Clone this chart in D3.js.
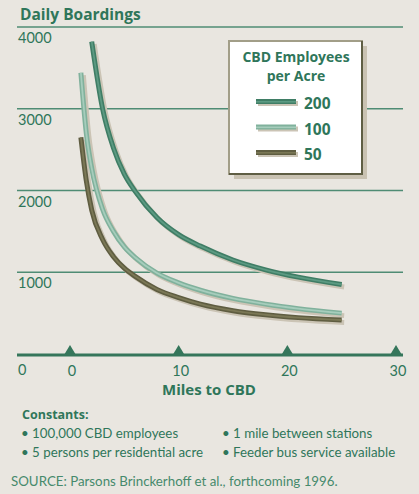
<!DOCTYPE html>
<html>
<head>
<meta charset="utf-8">
<script src="https://cdn.jsdelivr.net/npm/d3@7"></script>
<style>
  html, body { margin: 0; padding: 0; background: #e9e6e0; }
  svg { display: block; font-family: Lato, "Open Sans", sans-serif; }
  .bold { font-family: "Open Sans", Lato, sans-serif; font-weight: 700; }
</style>
</head>
<body>
<svg id="chart" width="419" height="494"></svg>
<script>
// values (daily boardings by miles to CBD)
const series = ["200", "100", "50"];
const miles200 = [2, 3, 4, 5, 6, 8, 10, 12, 15, 18, 21, 25];
const board200 = [3820, 3000, 2520, 2200, 1990, 1670, 1460, 1320, 1150, 1030, 940, 850];
const miles100 = [1, 1.5, 2, 3, 4, 5, 6, 8, 10, 12, 15, 18, 21, 25];
const board100 = [3440, 2700, 2270, 1770, 1500, 1310, 1180, 990, 870, 780, 680, 610, 555, 500];
const miles50 = [1, 1.5, 2, 3, 4, 5, 6, 8, 10, 12, 15, 18, 21, 25];
const board50 = [2650, 2120, 1760, 1400, 1190, 1050, 950, 790, 690, 610, 530, 480, 445, 416];
const yTicks = [0, 1000, 2000, 3000, 4000];
const xTicks = [0, 10, 20, 30];
const notesLeft = ["• 100,000 CBD employees", "• 5 persons per residential acre"];
const notesRight = ["• 1 mile between stations", "• Feeder bus service available"];

const green = "#2f765a";
const colors = {
  "200": { edge: "#3f7d65", core: "#5c9a82" },
  "100": { edge: "#80b19c", core: "#a6cdbc" },
  "50":  { edge: "#5f5d41", core: "#7b7856" }
};
const shadow = "#cbc4b5";

const svg = d3.select("#chart");
const x = d3.scaleLinear().domain([0, 30]).range([70, 396]);
const y = d3.scaleLinear().domain([0, 4000]).range([354, 27]);
const left = 17, right = 403;

// title
svg.append("text").attr("class", "bold").attr("x", 20).attr("y", 20)
  .attr("fill", green).attr("font-size", 15.5)
  .text("Daily Boardings");

// gridlines
svg.selectAll("line.grid").data(yTicks.filter(d => d > 0)).join("line")
  .attr("class", "grid")
  .attr("x1", left).attr("x2", right)
  .attr("y1", d => y(d)).attr("y2", d => y(d))
  .attr("stroke", "#4f8c74").attr("stroke-width", 1.5);

svg.selectAll("text.ylab").data(yTicks).join("text")
  .attr("class", "ylab")
  .attr("x", 18).attr("y", d => y(d) + (d === 0 ? 21 : 16))
  .attr("fill", green).attr("font-size", 14.5)
  .text(d => d);

// curves
const line = d3.line().x(d => x(d[0])).y(d => y(d[1])).curve(d3.curveMonotoneX);
const data = {
  "200": miles200.map((m, i) => [m, board200[i]]),
  "100": miles100.map((m, i) => [m, board100[i]]),
  "50": miles50.map((m, i) => [m, board50[i]])
};

// shadows first, then the tubes (back to front: 50, 100, 200)
const order = ["50", "100", "200"];
order.forEach(k => {
  svg.append("path").attr("d", line(data[k]))
    .attr("transform", "translate(2.5,2.5)")
    .attr("fill", "none").attr("stroke", shadow).attr("stroke-width", 5);
});
order.forEach(k => {
  svg.append("path").attr("d", line(data[k]))
    .attr("fill", "none").attr("stroke", colors[k].edge).attr("stroke-width", 5);
  svg.append("path").attr("d", line(data[k]))
    .attr("fill", "none").attr("stroke", colors[k].core).attr("stroke-width", 1.8);
});

// x axis
svg.append("line")
  .attr("x1", left).attr("x2", right).attr("y1", 355).attr("y2", 355)
  .attr("stroke", "#35765b").attr("stroke-width", 3);

svg.selectAll("path.tri").data(xTicks).join("path")
  .attr("class", "tri")
  .attr("d", d => `M${x(d) - 6},355 L${x(d)},345 L${x(d) + 6},355 Z`)
  .attr("fill", "#35765b");

svg.selectAll("text.xlab").data(xTicks).join("text")
  .attr("class", "xlab")
  .attr("x", d => x(d) + 2).attr("y", 376)
  .attr("text-anchor", "middle")
  .attr("fill", green).attr("font-size", 14.5)
  .text(d => d);

svg.append("text").attr("class", "bold").attr("x", 209).attr("y", 395)
  .attr("text-anchor", "middle")
  .attr("fill", green).attr("font-size", 15)
  .text("Miles to CBD");

// legend
const lg = svg.append("g");
lg.append("rect").attr("x", 234).attr("y", 46).attr("width", 133).attr("height", 133)
  .attr("fill", "#c9c2b2");
lg.append("rect").attr("x", 229).attr("y", 41).attr("width", 133).attr("height", 133)
  .attr("fill", "#fff").attr("stroke", "#a29e88").attr("stroke-width", 2);
lg.append("path").attr("d", "M362,41 L362,174 L229,174")
  .attr("fill", "none").attr("stroke", "#5f5e44").attr("stroke-width", 2);

lg.append("text").attr("class", "bold").attr("x", 296).attr("y", 62).attr("text-anchor", "middle")
  .attr("fill", green).attr("font-size", 14)
  .text("CBD Employees");
lg.append("text").attr("class", "bold").attr("x", 296).attr("y", 81).attr("text-anchor", "middle")
  .attr("fill", green).attr("font-size", 14)
  .text("per Acre");

const ly = d3.scalePoint().domain(series).range([102, 153]);
series.forEach(k => {
  lg.append("rect").attr("x", 258).attr("y", ly(k) - 1).attr("width", 40).attr("height", 5)
    .attr("fill", shadow);
  lg.append("rect").attr("x", 256).attr("y", ly(k) - 3).attr("width", 40).attr("height", 5)
    .attr("fill", colors[k].edge);
  lg.append("rect").attr("x", 256).attr("y", ly(k) - 1).attr("width", 40).attr("height", 1.6)
    .attr("fill", colors[k].core);
  lg.append("text").attr("class", "bold").attr("x", 304).attr("y", ly(k) + 7)
    .attr("fill", green).attr("font-size", 15.5)
    .text(k);
});

// notes
svg.append("text").attr("class", "bold").attr("x", 22).attr("y", 419)
  .attr("fill", green).attr("font-size", 12.5)
  .text("Constants:");
notesLeft.forEach((t, i) => {
  svg.append("text").attr("x", 21).attr("y", 438 + i * 18.5)
    .attr("fill", green).attr("font-size", 13.3).text(t);
});
notesRight.forEach((t, i) => {
  svg.append("text").attr("x", 222).attr("y", 438 + i * 18.5)
    .attr("fill", green).attr("font-size", 13.3).text(t);
});
svg.append("text").attr("x", 11).attr("y", 486)
  .attr("fill", "#468a6c").attr("font-size", 13.3)
  .text("SOURCE: Parsons Brinckerhoff et al., forthcoming 1996.");
</script>
</body>
</html>
